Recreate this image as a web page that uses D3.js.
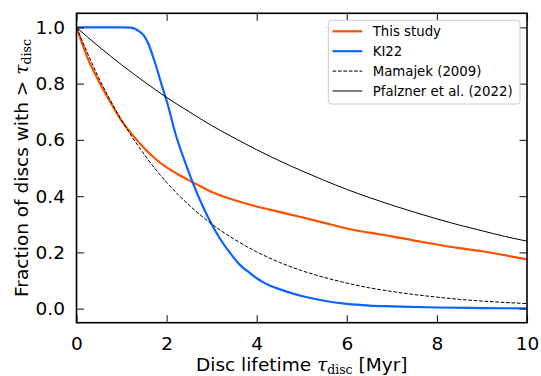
<!DOCTYPE html>
<html>
<head>
<meta charset="utf-8">
<script src="https://cdn.jsdelivr.net/npm/d3@7"></script>
<style>
  html, body { margin: 0; padding: 0; background: #fff; }
  svg { display: block; }
  text { font-family: "DejaVu Sans", sans-serif; fill: #000; }
</style>
</head>
<body>
<svg id="chart" width="541" height="376"></svg>
<script>
// ---- data ----
const thisStudyT = [0,0.25,0.5,0.75,1,1.25,1.5,1.75,2,2.25,2.5,2.75,3,3.5,4,4.5,5,5.5,6,6.5,7,7.5,8,8.5,9,9.5,10];
const thisStudyF = [1.0,0.89,0.807,0.735,0.668,0.616,0.571,0.533,0.502,0.478,0.456,0.435,0.415,0.386,0.363,0.344,0.325,0.305,0.285,0.27,0.257,0.242,0.228,0.215,0.204,0.19,0.175];

const ki22T = [0,0.5,1.0,1.2,1.4,1.5,1.6,1.7,1.8,1.9,2.0,2.2,2.4,2.6,2.8,3.0,3.2,3.4,3.6,3.7,3.8,4.0,4.2,4.4,4.6,4.8,5.0,5.5,6.0,6.5,7,8,9,10];
const ki22F = [1,1,1,0.999,0.985,0.97,0.94,0.895,0.845,0.79,0.74,0.62,0.525,0.44,0.365,0.30,0.245,0.2,0.16,0.145,0.133,0.108,0.089,0.075,0.064,0.054,0.045,0.028,0.017,0.011,0.008,0.004,0.002,0.001];

const mamajekT = [0,0.5,1,1.5,2,2.5,3,3.5,4,4.5,5,5.5,6,6.5,7,7.5,8,8.5,9,9.5,10];
const mamajekF = [1.0,0.819,0.670,0.549,0.449,0.368,0.301,0.247,0.202,0.165,0.135,0.111,0.091,0.074,0.061,0.050,0.041,0.033,0.027,0.022,0.018];

const pfalznerT = [0,0.5,1,1.5,2,2.5,3,3.5,4,4.5,5,5.5,6,6.5,7,7.5,8,8.5,9,9.5,10];
const pfalznerF = [1.0,0.931,0.867,0.807,0.751,0.700,0.651,0.607,0.565,0.526,0.490,0.456,0.424,0.395,0.368,0.343,0.319,0.297,0.277,0.257,0.240];

const xTicks = [0,2,4,6,8,10];
const yTicks = [0.0,0.2,0.4,0.6,0.8,1.0];
const legendLabels = ["This study","KI22","Mamajek (2009)","Pfalzner et al. (2022)"];

// ---- layout ----
const svg = d3.select("#chart");
const L = 76.5, R = 527, T = 13.3, B = 322.7;
const x = d3.scaleLinear().domain([0,10]).range([L,R]);
const y = d3.scaleLinear().domain([-0.05,1.05]).range([B,T]);

svg.append("defs").append("clipPath").attr("id","clip")
  .append("rect").attr("x",L).attr("y",T).attr("width",R-L).attr("height",B-T);

const series = [
  {t: thisStudyT, f: thisStudyF, color: "#ff5000", width: 2.2, dash: null},
  {t: ki22T, f: ki22F, color: "#0a64ff", width: 2.2, dash: null},
  {t: mamajekT, f: mamajekF, color: "#000", width: 1.0, dash: "3.7,1.7"},
  {t: pfalznerT, f: pfalznerF, color: "#000", width: 1.0, dash: null}
];

const line = d3.line().x(d => x(d[0])).y(d => y(d[1])).curve(d3.curveMonotoneX);
const g = svg.append("g").attr("clip-path","url(#clip)");
series.forEach(s => {
  g.append("path")
    .datum(s.t.map((t,i) => [t, s.f[i]]))
    .attr("d", line)
    .attr("fill","none")
    .attr("stroke", s.color)
    .attr("stroke-width", s.width)
    .attr("stroke-dasharray", s.dash)
    .attr("stroke-linejoin","round");
});

// ---- axes ----
const tickLen = 7.5;
const fs = "18.5px";
function styleAxis(sel){
  sel.select(".domain").remove();
  sel.selectAll(".tick line").attr("stroke","#222").attr("stroke-width",1.1);
  sel.selectAll(".tick text").attr("font-size",fs).attr("font-family","DejaVu Sans");
}
svg.append("g").attr("transform",`translate(0,${B})`)
  .call(d3.axisBottom(x).tickValues(xTicks).tickSize(-tickLen).tickPadding(14).tickFormat(d3.format("d")))
  .call(styleAxis);
svg.append("g").attr("transform",`translate(0,${T})`)
  .call(d3.axisTop(x).tickValues(xTicks).tickSize(-tickLen).tickFormat(""))
  .call(styleAxis);
svg.append("g").attr("transform",`translate(${L},0)`)
  .call(d3.axisLeft(y).tickValues(yTicks).tickSize(-tickLen).tickPadding(11.5).tickFormat(d3.format(".1f")))
  .call(styleAxis);
svg.append("g").attr("transform",`translate(${R},0)`)
  .call(d3.axisRight(y).tickValues(yTicks).tickSize(-tickLen).tickFormat(""))
  .call(styleAxis);

svg.append("rect").attr("x",L).attr("y",T).attr("width",R-L).attr("height",B-T)
  .attr("fill","none").attr("stroke","#000").attr("stroke-width",1.6);

// ---- axis labels ----
const xl = svg.append("text").attr("x",(L+R)/2).attr("y",371).attr("text-anchor","middle").attr("font-size",fs);
xl.append("tspan").text("Disc lifetime ");
xl.append("tspan").attr("font-family","DejaVu Serif").attr("font-style","italic").text("τ");
xl.append("tspan").attr("font-family","DejaVu Serif").attr("font-size","12.5px").attr("dy","3").text("disc");
xl.append("tspan").attr("dy","-3").text(" [Myr]");

const yl = svg.append("text").attr("transform",`translate(28,${(T+B)/2}) rotate(-90)`).attr("text-anchor","middle").attr("font-size",fs);
yl.append("tspan").text("Fraction of discs with > ");
yl.append("tspan").attr("font-family","DejaVu Serif").attr("font-style","italic").text("τ");
yl.append("tspan").attr("font-family","DejaVu Serif").attr("font-size","12.5px").attr("dy","3").text("disc");

// ---- legend ----
const lg = svg.append("g");
lg.append("rect").attr("x",328.3).attr("y",20.3).attr("width",191.7).attr("height",83.7)
  .attr("rx",3).attr("fill","#fff").attr("fill-opacity",0.8).attr("stroke","#ccc").attr("stroke-width",1);
legendLabels.forEach((lab,i) => {
  const yy = 31.3 + i*19.9;
  const s = series[i];
  lg.append("line").attr("x1",332.5).attr("x2",362.3).attr("y1",yy).attr("y2",yy)
    .attr("stroke",s.color).attr("stroke-width",s.width).attr("stroke-dasharray",s.dash);
  lg.append("text").attr("x",372.7).attr("y",yy).attr("dy","0.36em").attr("font-size","13.3px").text(lab);
});
</script>
</body>
</html>
